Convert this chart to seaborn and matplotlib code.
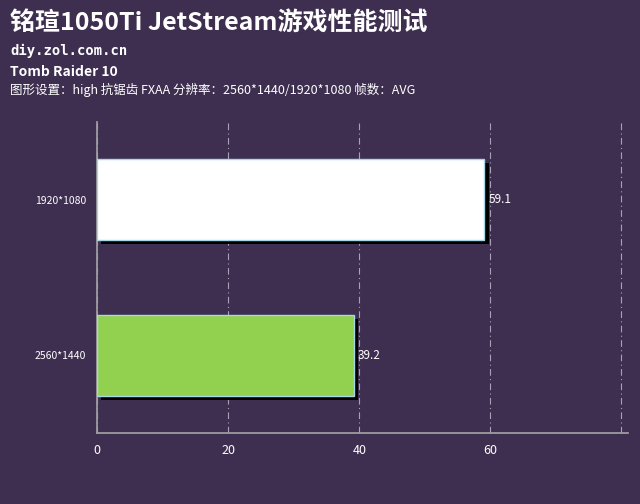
import matplotlib
matplotlib.use('Agg')
import matplotlib.pyplot as plt
import matplotlib.patheffects as pe
import seaborn as sns
import pandas as pd

resolutions = ['1920*1080', '2560*1440']
fps = [59.1, 39.2]
colors = ['#ffffff', '#92d050']

bg = '#3e2f50'
sns.set_theme(style='dark')
plt.rcParams['font.family'] = ['Noto Sans CJK SC', 'DejaVu Sans']

df = pd.DataFrame({'res': resolutions, 'fps': fps})
fig = plt.figure(figsize=(6.4, 5.04), dpi=100, facecolor=bg)
ax = fig.add_axes([0.152, 0.141, 0.829, 0.617])
ax.set_facecolor(bg)

sns.barplot(data=df, x='fps', y='res', hue='res', palette=colors, legend=False,
            saturation=1, width=0.52, edgecolor='#a8d8e8', linewidth=1, ax=ax, zorder=3)
for bar, v in zip(ax.patches, fps):
    bar.set_path_effects([pe.SimplePatchShadow(offset=(3, -3), shadow_rgbFace='black', alpha=1), pe.Normal()])
    ax.text(v + 0.6, bar.get_y() + bar.get_height() / 2, f'{v}', color='white',
            va='center', ha='left', fontsize=8.5)

ax.set_xlim(0, 81)
ax.set_ylim(1.5, -0.5)
ax.set_xticks([0, 20, 40, 60, 80])
ax.set_xticklabels(['0', '20', '40', '60', ''])
ax.xaxis.grid(True, color='#a8a0b4', linestyle=(0, (6, 3, 1, 3)), linewidth=0.8)
ax.yaxis.grid(False)
ax.set_xlabel('')
ax.set_ylabel('')
for s in ['top', 'right']:
    ax.spines[s].set_visible(False)
for s in ['left', 'bottom']:
    ax.spines[s].set_color('#a0a0a0')
ax.tick_params(axis='x', colors='white', labelsize=9, length=0, pad=8)
ax.tick_params(axis='y', colors='white', labelsize=7.5, length=0, pad=8)

fig.text(0.016, 0.955, '铭瑄1050Ti JetStream游戏性能测试', color='white', fontsize=18,
         fontweight='bold', va='center')
fig.text(0.016, 0.898, 'diy.zol.com.cn', color='white', fontsize=10, fontweight='bold',
         family='DejaVu Sans Mono', va='center')
fig.text(0.016, 0.858, 'Tomb Raider 10', color='white', fontsize=10, fontweight='bold', va='center')
fig.text(0.016, 0.822, '图形设置：high 抗锯齿 FXAA 分辨率：2560*1440/1920*1080 帧数：AVG',
         color='white', fontsize=9, va='center')

fig.savefig('out.png', dpi=100, facecolor=bg)
